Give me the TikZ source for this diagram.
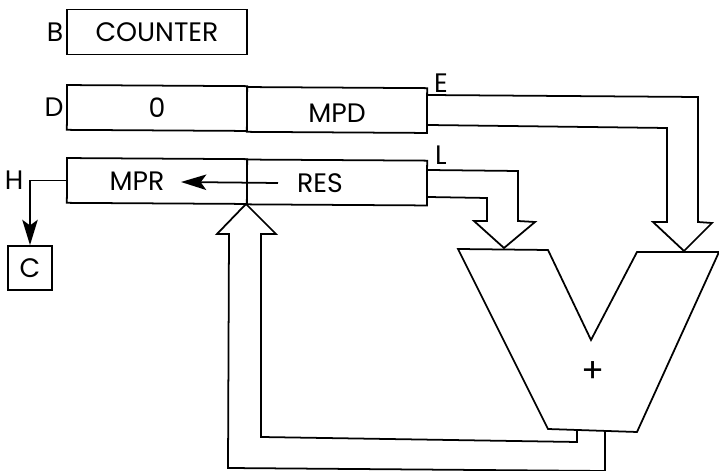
\documentclass[tikz,border=0pt]{standalone}
\usepackage{fontspec}
\setmainfont{Poppins}
\usetikzlibrary{arrows.meta}

\begin{document}
\begin{tikzpicture}[x=0.025cm, y=-0.025cm, line width=1.25pt, line join=miter]
    \tikzstyle{cell} = [draw, minimum width=4.5cm, minimum height=1.12cm, rotate=-0.35, inner sep=0pt]
    \tikzstyle{lettering} = [font=\fontsize{19}{19}\selectfont, inner sep=0pt]
    \tikzstyle{flow} = [-{Stealth[length=18pt, width=11pt, inset=4pt]}]
    \useasboundingbox (0, 0) rectangle (719, 471);

    \node[draw, minimum width=4.5cm, minimum height=1.12cm, inner sep=0pt] (counter) at (157, 32) {};
    \node[lettering] (countertext) at (157, 32) {COUNTER};
    \node[cell] (high) at (157, 108) {};
    \node[cell] (mpd) at (337, 110) {};
    \node[cell] (mpr) at (157, 181) {};
    \node[cell] (res) at (337, 182.5) {};
    \node[lettering] (zero) at (157, 108) {0};
    \node[lettering] (mpdtext) at (337, 113) {MPD};
    \node[lettering] (mprtext) at (137, 181) {MPR};
    \node[lettering] (restext) at (320, 183) {RES};
    \node[lettering] (b) at (55, 32) {B};
    \node[lettering] (d) at (54, 107) {D};
    \node[lettering] (e) at (441, 83) {E};
    \node[lettering] (l) at (441, 155) {L};
    \node[lettering] (h) at (14, 180) {H};
    \node[draw, minimum size=1.1cm, inner sep=0pt, font=\fontsize{19}{19}\selectfont] (c) at (30, 268) {C};
    \node[lettering, font=\fontsize{24}{24}\selectfont] (plus) at (593, 372) {+};

    \coordinate (shift) at (278, 183);
    \coordinate (shifttip) at (181, 182);
    \draw[flow] (shift) -- (shifttip);
    \draw[flow] (mpr.west) -| (c.north);

    \draw (458, 249) -- (548, 250) -- (591, 340) -- (637, 252) -- (719, 252)
        -- (637, 432) -- (548, 429) -- cycle;

    \coordinate (toptip) at (246, 204);
    \coordinate (alua) at (577, 430);
    \coordinate (alub) at (605, 432);
    \draw (toptip) -- (276, 234) -- (261, 234) -- (261, 437) -- (577, 442) -- (alua);
    \draw (toptip) -- (217, 234) -- (229, 234) -- (228, 468) -- (605, 471) -- (alub);

    \coordinate (lefttip) at (504, 248);
    \draw (428, 170) -- (518, 171) -- (518, 221) -- (535, 222) -- (lefttip)
        -- (474, 221) -- (487, 221) -- (487, 198) -- (428, 197);

    \coordinate (righttip) at (684, 251);
    \draw (428, 95) -- (698, 97) -- (698, 222) -- (712, 223) -- (righttip)
        -- (653, 222) -- (667, 222) -- (667, 128) -- (428, 125);
\end{tikzpicture}
\end{document}
